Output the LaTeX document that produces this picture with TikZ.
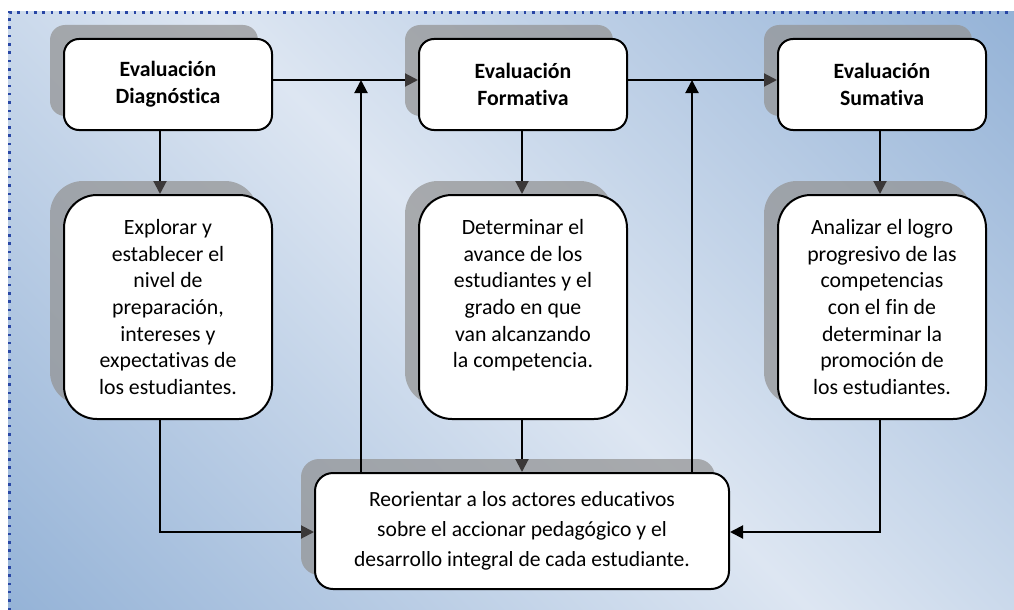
\documentclass[tikz,border=0pt]{standalone}
\usepackage{fontspec}
\setmainfont{Carlito}[Ligatures=NoCommon]
\usetikzlibrary{arrows.meta,shadows}
\definecolor{bgdark}{RGB}{149,179,215}
\definecolor{bglight}{RGB}{221,230,242}
\definecolor{shadowgray}{RGB}{147,147,147}
\definecolor{tipdark}{RGB}{59,56,56}
\definecolor{dotblue}{RGB}{40,70,165}
\pgfdeclarehorizontalshading{bgshade}{100bp}{color(0bp)=(bgdark); color(14.6bp)=(bgdark); color(50bp)=(bglight); color(85.4bp)=(bgdark); color(100bp)=(bgdark)}
\begin{document}
\begin{tikzpicture}[x=1pt,y=-1pt,
  basebox/.style={draw=black, line width=2pt, fill=white, inner sep=0pt, align=center,
    general shadow={shadow xshift=-14pt, shadow yshift=14pt, fill=shadowgray, fill opacity=0.72}},
  topbox/.style={basebox, rounded corners=15pt, minimum width=208pt, minimum height=91pt,
    font=\fontsize{21.8}{26.7}\selectfont\bfseries},
  midbox/.style={basebox, rounded corners=33pt, minimum width=208pt, minimum height=224pt,
    font=\fontsize{21.8}{26.7}\selectfont},
  botbox/.style={basebox, rounded corners=18pt, minimum width=414pt, minimum height=116pt,
    font=\fontsize{21.6}{30}\selectfont},
  conn/.style={line width=2pt, draw=black},
  darrow/.style={conn, -{Triangle[length=13pt,width=13pt,color=tipdark]}},
  uarrow/.style={conn, -{Triangle[length=13pt,width=13pt,color=black]}}
]
\useasboundingbox (0,0) rectangle (1014,610);
\shade[shading=bgshade, shading angle=45] (8,12) rectangle (1014,610);
\draw[dotblue, line width=2.5pt, dash pattern=on 2.5pt off 5.8pt] (9.3,610) -- (9.3,12.3) -- (1014,12.3);

\coordinate (hy) at (0,80);
\coordinate (ly) at (0,532);
\coordinate (c1) at (160,0);
\coordinate (c2) at (522,0);
\coordinate (c3) at (880,0);
\coordinate (u1) at (361,0);
\coordinate (u2) at (692,0);

\node[topbox] (t1) at (168,84.5) {Evaluación\\Diagnóstica};
\node[topbox] (t2) at (523,84.5) {Evaluación\\Formativa};
\node[topbox] (t3) at (882,84.5) {Evaluación\\Sumativa};

\node[midbox] (m1) at (168,307) {Explorar y\\establecer el\\nivel de\\preparación,\\intereses y\\expectativas de\\los estudiantes.};
\node[midbox] (m2) at (523,307) {Determinar el\\avance de los\\estudiantes y el\\grado en que\\van alcanzando\\la competencia.\\\mbox{}};
\node[midbox] (m3) at (882,307) {Analizar el logro\\progresivo de las\\competencias\\con el fin de\\determinar la\\promoción de\\los estudiantes.};

\node[botbox] (b) at (522,531) {Reorientar a los actores educativos\\sobre el accionar pedagógico y el\\desarrollo integral de cada estudiante.};

\draw[darrow] (t1.east |- hy) -- (t2.west |- hy);
\draw[darrow] (t2.east |- hy) -- (t3.west |- hy);
\draw[darrow] (t1.south -| c1) -- (m1.north -| c1);
\draw[darrow] (t2.south -| c2) -- (m2.north -| c2);
\draw[darrow] (t3.south -| c3) -- (m3.north -| c3);
\draw[darrow] (m1.south -| c1) |- (b.west |- ly);
\draw[uarrow] (m3.south -| c3) |- (b.east |- ly);
\draw[darrow] (m2.south -| c2) -- (b.north -| c2);
\draw[uarrow] (b.north -| u1) -- (u1 |- hy);
\draw[uarrow] (b.north -| u2) -- (u2 |- hy);
\end{tikzpicture}
\end{document}
